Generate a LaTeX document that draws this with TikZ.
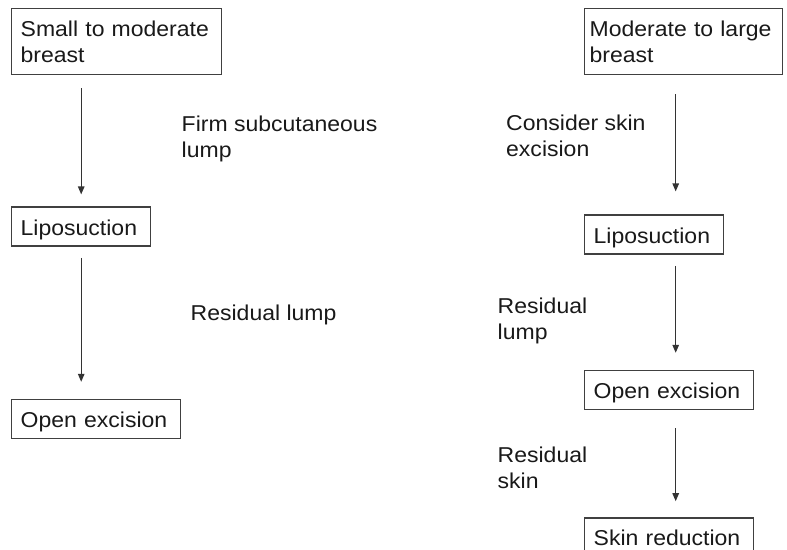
\documentclass[tikz,border=0pt]{standalone}
\usepackage{fontspec}
\setmainfont{Liberation Sans}[FakeStretch=1.07]
\usetikzlibrary{arrows.meta,positioning}

\begin{document}
\begin{tikzpicture}[x=1pt,y=-1pt,>={Triangle[length=8pt,width=6.5pt]},
  main node/.style={draw=black!75,line width=1.4pt,anchor=north west,inner xsep=9pt,
    inner ysep=0pt,align=left,text=black!90,font=\fontsize{21.5}{26}\selectfont},
  one line/.style={text height=28pt,text depth=11pt},
  side note/.style={anchor=north west,inner sep=0pt,align=left,text=black!90,
    font=\fontsize{21.5}{26}\selectfont}]

  \path[use as bounding box] (0,0) rectangle (787,549);
  \clip (0,0) rectangle (787,549);

  % left column
  \node[main node, text width=192pt, minimum height=66pt] (small) at (11,8) {Small to moderate\\breast};
  \node[main node, one line, text width=121pt, below=131pt of small.south west, anchor=north west] (lipoL) {Liposuction};
  \node[main node, one line, text width=151pt, below=152pt of lipoL.south west, anchor=north west] (openL) {Open excision};

  % right column
  \node[main node, inner xsep=5pt, text width=188pt, minimum height=66pt] (large) at (584,8) {Moderate to large\\breast};
  \node[main node, one line, text width=121pt, below=139pt of large.south west, anchor=north west] (lipoR) {Liposuction};
  \node[main node, one line, text width=151pt, below=115pt of lipoR.south west, anchor=north west] (openR) {Open excision};
  \node[main node, one line, text width=151pt, below=107pt of openR.south west, anchor=north west] (skin) {Skin reduction};

  % notes
  \node[side note] (firm) at (181.5,116) {Firm subcutaneous\\lump};
  \node[side note] (resL) at (190.5,305) {Residual lump};
  \node[side note] (skinex) at (506,115) {Consider skin\\excision};
  \node[side note] (resR) at (497.5,298) {Residual\\lump};
  \node[side note] (resS) at (497.5,447) {Residual\\skin};

  \path[line width=1.2pt,every edge/.append style={draw=black!80,->}]
    (small.south -| lipoL) edge[shorten <=13pt, shorten >=12pt] (lipoL)
    (lipoL) edge[shorten <=11pt, shorten >=17pt] (openL.north -| lipoL)
    ([xshift=-8pt]large.south) edge[shorten <=19pt, shorten >=23pt] ([xshift=-8pt]large.south |- lipoR.north)
    ([xshift=-8pt]large.south |- lipoR.south) edge[shorten <=11pt, shorten >=17pt] ([xshift=-8pt]large.south |- openR.north)
    ([xshift=-8pt]large.south |- openR.south) edge[shorten <=18pt, shorten >=16pt] ([xshift=-8pt]large.south |- skin.north);
\end{tikzpicture}
\end{document}
